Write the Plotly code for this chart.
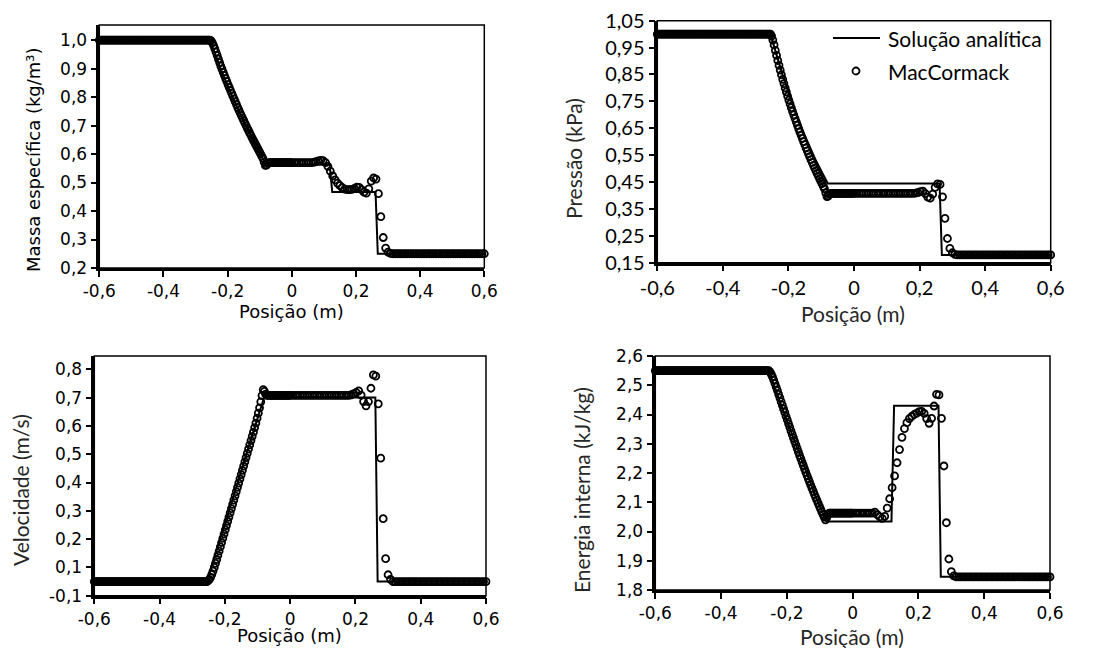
import numpy as np
import plotly.graph_objects as go

W, H = 1103, 648

# ---- MacCormack mesh: fine on the left half, coarser on the right half ----
x_left = np.linspace(-0.6, -0.00375, 160)   # dx = 0.00375
x_right = np.linspace(0.0, 0.6, 81)         # dx = 0.0075
x_num = np.concatenate([x_left, x_right])

# ---- MacCormack results ----
rho_num = (
    [1.000] * 92
    + [1.000, 0.997, 0.990, 0.981, 0.970, 0.958, 0.946, 0.933, 0.921, 0.909,
       0.898, 0.887, 0.876, 0.865, 0.855, 0.844, 0.834, 0.824, 0.814, 0.804,
       0.794, 0.784, 0.774, 0.764, 0.755, 0.745, 0.736, 0.727, 0.718, 0.709,
       0.700, 0.691, 0.683, 0.674, 0.666, 0.657, 0.649, 0.641, 0.633, 0.625,
       0.617, 0.609, 0.601, 0.593, 0.585, 0.572, 0.560, 0.561, 0.566]
    + [0.570] * 19
    + [0.570] * 9
    + [0.571, 0.573, 0.576, 0.578, 0.577, 0.570, 0.557, 0.540, 0.523, 0.509,
       0.498, 0.489, 0.482, 0.477, 0.475, 0.475, 0.476, 0.479, 0.484, 0.483,
       0.475, 0.466, 0.463, 0.478, 0.505, 0.516, 0.512, 0.461, 0.380, 0.307,
       0.270, 0.256, 0.251]
    + [0.250] * 39
)

p_num = (
    [1.000] * 92
    + [1.000, 0.993, 0.978, 0.960, 0.940, 0.921, 0.902, 0.884, 0.866, 0.849,
       0.832, 0.816, 0.800, 0.785, 0.770, 0.755, 0.741, 0.727, 0.713, 0.700,
       0.687, 0.674, 0.661, 0.648, 0.636, 0.624, 0.612, 0.600, 0.589, 0.577,
       0.566, 0.555, 0.544, 0.533, 0.523, 0.512, 0.502, 0.492, 0.482, 0.472,
       0.463, 0.453, 0.444, 0.434, 0.425, 0.410, 0.396, 0.398, 0.404]
    + [0.408] * 19
    + [0.408] * 9
    + [0.408, 0.408, 0.408, 0.408, 0.408, 0.408, 0.408, 0.408, 0.408, 0.408,
       0.408, 0.408, 0.408, 0.408, 0.408, 0.408, 0.409, 0.411, 0.414, 0.416,
       0.407, 0.394, 0.390, 0.405, 0.430, 0.443, 0.441, 0.395, 0.315, 0.240,
       0.203, 0.187, 0.181]
    + [0.179] * 39
)

u_num = (
    [0.050] * 92
    + [0.050, 0.053, 0.058, 0.065, 0.075, 0.087, 0.100, 0.114, 0.128, 0.143,
       0.158, 0.173, 0.188, 0.203, 0.218, 0.233, 0.248, 0.263, 0.278, 0.293,
       0.308, 0.323, 0.338, 0.353, 0.368, 0.383, 0.398, 0.413, 0.428, 0.443,
       0.458, 0.473, 0.488, 0.503, 0.518, 0.533, 0.548, 0.563, 0.578, 0.594,
       0.610, 0.627, 0.645, 0.664, 0.685, 0.707, 0.728, 0.722, 0.712]
    + [0.708] * 19
    + [0.708] * 9
    + [0.708, 0.708, 0.708, 0.708, 0.708, 0.708, 0.708, 0.708, 0.708, 0.708,
       0.708, 0.708, 0.708, 0.708, 0.708, 0.708, 0.710, 0.714, 0.718, 0.724,
       0.709, 0.686, 0.671, 0.686, 0.733, 0.780, 0.776, 0.678, 0.486, 0.272,
       0.131, 0.074, 0.058]
    + [0.050] * 39
)

e_num = (
    [2.550] * 92
    + [2.550, 2.546, 2.538, 2.529, 2.518, 2.506, 2.494, 2.482, 2.469, 2.457,
       2.444, 2.432, 2.419, 2.407, 2.394, 2.382, 2.369, 2.357, 2.344, 2.332,
       2.320, 2.308, 2.296, 2.284, 2.272, 2.260, 2.249, 2.237, 2.226, 2.214,
       2.203, 2.192, 2.181, 2.170, 2.159, 2.148, 2.138, 2.127, 2.117, 2.107,
       2.097, 2.087, 2.077, 2.067, 2.058, 2.049, 2.040, 2.048, 2.057]
    + [2.063] * 19
    + [2.063] * 9
    + [2.066, 2.058, 2.050, 2.045, 2.052, 2.080, 2.112, 2.150, 2.190, 2.235,
       2.280, 2.322, 2.352, 2.372, 2.386, 2.394, 2.400, 2.405, 2.410, 2.411,
       2.404, 2.386, 2.370, 2.387, 2.429, 2.469, 2.467, 2.387, 2.224, 2.030,
       1.906, 1.863, 1.848]
    + [1.845] * 39
)

# ---- analytical solution ----
x_rho_a = [-0.6, -0.255, -0.22, -0.185, -0.15, -0.115, -0.08, 0.118, 0.126, 0.261, 0.268, 0.6]
rho_a = [1.0, 1.0, 0.895, 0.800, 0.714, 0.637, 0.562, 0.562, 0.467, 0.467, 0.250, 0.250]

x_p_a = [-0.6, -0.255, -0.22, -0.185, -0.15, -0.115, -0.08, 0.261, 0.268, 0.6]
p_a = [1.0, 1.0, 0.857, 0.731, 0.622, 0.527, 0.445, 0.445, 0.179, 0.179]

x_u_a = [-0.6, -0.255, -0.08, 0.261, 0.268, 0.6]
u_a = [0.05, 0.05, 0.70, 0.70, 0.05, 0.05]

x_e_a = [-0.6, -0.255, -0.22, -0.185, -0.15, -0.115, -0.08, 0.118, 0.126, 0.261, 0.268, 0.6]
e_a = [2.55, 2.55, 2.440, 2.333, 2.228, 2.126, 2.034, 2.034, 2.430, 2.430, 1.845, 1.845]

# ---- tick labels ----
x_ticks = [-0.6, -0.4, -0.2, 0.0, 0.2, 0.4, 0.6]
x_ticktext = ["-0,6", "-0,4", "-0,2", "0", "0,2", "0,4", "0,6"]
rho_ticks = [0.2, 0.3, 0.4, 0.5, 0.6, 0.7, 0.8, 0.9, 1.0]
rho_ticktext = ["0,2", "0,3", "0,4", "0,5", "0,6", "0,7", "0,8", "0,9", "1,0"]
p_ticks = [0.15, 0.25, 0.35, 0.45, 0.55, 0.65, 0.75, 0.85, 0.95, 1.05]
p_ticktext = ["0,15", "0,25", "0,35", "0,45", "0,55", "0,65", "0,75", "0,85", "0,95", "1,05"]
u_ticks = [0.0, 0.1, 0.2, 0.3, 0.4, 0.5, 0.6, 0.7, 0.8]
u_ticktext = ["-0,1", "0,1", "0,2", "0,3", "0,4", "0,5", "0,6", "0,7", "0,8"]
e_ticks = [1.8, 1.9, 2.0, 2.1, 2.2, 2.3, 2.4, 2.5, 2.6]
e_ticktext = ["1,8", "1,9", "2,0", "2,1", "2,2", "2,3", "2,4", "2,5", "2,6"]

VERDANA = "DejaVu Sans"
CALIBRI = "Lato"

fig = go.Figure()

panels = [
    (x_rho_a, rho_a, rho_num, "x", "y"),
    (x_p_a, p_a, p_num, "x2", "y2"),
    (x_u_a, u_a, u_num, "x3", "y3"),
    (x_e_a, e_a, e_num, "x4", "y4"),
]
for xa, ya, yn, xr, yr in panels:
    fig.add_trace(go.Scatter(
        x=xa, y=ya, mode="lines", xaxis=xr, yaxis=yr,
        line=dict(color="black", width=2), showlegend=False, cliponaxis=False,
    ))
    fig.add_trace(go.Scatter(
        x=x_num, y=yn, mode="markers", xaxis=xr, yaxis=yr,
        marker=dict(symbol="circle-open", size=7, color="black",
                    line=dict(width=1.8, color="black")),
        showlegend=False, cliponaxis=False,
    ))


def px_x(v):
    return v / W


def px_y(v):
    return 1 - v / H


def xaxis_cfg(left, right, font_family, font_size, anchor):
    return dict(
        domain=[px_x(left), px_x(right)], range=[-0.6, 0.6], anchor=anchor,
        tickvals=x_ticks, ticktext=x_ticktext, automargin=False,
        ticks="outside", ticklen=6, tickwidth=1.5, tickcolor="black",
        showline=True, linewidth=2.5, linecolor="black",
        showgrid=False, zeroline=False,
        tickfont=dict(family=font_family, size=font_size, color="black"),
    )


def yaxis_cfg(top, bottom, rng, tv, tt, font_family, font_size, anchor):
    return dict(
        domain=[px_y(bottom), px_y(top)], range=rng,
        tickvals=tv, ticktext=tt, anchor=anchor, automargin=False,
        ticks="outside", ticklen=6, tickwidth=1.5, tickcolor="black",
        showline=True, linewidth=2.5, linecolor="black",
        showgrid=False, zeroline=False,
        tickfont=dict(family=font_family, size=font_size, color="black"),
    )


fig.update_layout(
    width=W, height=H,
    margin=dict(l=0, r=0, t=0, b=0, autoexpand=False),
    paper_bgcolor="white", plot_bgcolor="white",
    xaxis=xaxis_cfg(99.3, 484.3, VERDANA, 17, "y"),
    yaxis=yaxis_cfg(25, 268, [0.2, 1.053], rho_ticks, rho_ticktext, VERDANA, 17, "x"),
    xaxis2=xaxis_cfg(657.3, 1050.7, CALIBRI, 20, "y2"),
    yaxis2=yaxis_cfg(20.7, 262.7, [0.15, 1.05], p_ticks, p_ticktext, CALIBRI, 20, "x2"),
    xaxis3=xaxis_cfg(94.3, 486.0, VERDANA, 17, "y3"),
    yaxis3=yaxis_cfg(356, 595.7, [0.0, 0.847], u_ticks, u_ticktext, VERDANA, 17, "x3"),
    xaxis4=xaxis_cfg(655.3, 1050.0, VERDANA, 17, "y4"),
    yaxis4=yaxis_cfg(356, 590, [1.8, 2.6], e_ticks, e_ticktext, VERDANA, 17, "x4"),
)

# frame around each plot area
shapes = []
for xr, yr in [("x", "y"), ("x2", "y2"), ("x3", "y3"), ("x4", "y4")]:
    shapes.append(dict(type="rect", xref=f"{xr} domain", yref=f"{yr} domain",
                       x0=0, x1=1, y0=0, y1=1, line=dict(color="black", width=1.5),
                       layer="below"))

# legend (top-right panel)
shapes.append(dict(type="line", xref="paper", yref="paper",
                   x0=px_x(833), x1=px_x(880), y0=px_y(38), y1=px_y(38),
                   line=dict(color="black", width=2)))
shapes.append(dict(type="circle", xref="paper", yref="paper",
                   x0=px_x(852.5), x1=px_x(859.5), y0=px_y(74.5), y1=px_y(67.5),
                   line=dict(color="black", width=1.8)))
fig.update_layout(shapes=shapes)

ann = []


def label(text, x, y, family, size, angle=0, xanchor="center", color="black"):
    ann.append(dict(text=text, x=px_x(x), y=px_y(y), xref="paper", yref="paper",
                    showarrow=False, textangle=angle, xanchor=xanchor, yanchor="middle",
                    font=dict(family=family, size=size, color=color)))


label("Solução analítica", 886, 38, CALIBRI, 21, xanchor="left")
label("MacCormack", 886, 71, CALIBRI, 21, xanchor="left")

label("Massa específica (kg/m³)", 33, 160, VERDANA, 18, angle=-90)
label("Posição (m)", 291, 312, VERDANA, 18)
label("Pressão (kPa)", 573, 159, CALIBRI, 21, angle=-90, color="#262626")
label("Posição (m)", 853, 313, CALIBRI, 21, color="#262626")
label("Velocidade (m/s)", 20, 490, CALIBRI, 21, angle=-90, color="#262626")
label("Posição (m)", 289, 635, VERDANA, 18)
label("Energia interna (kJ/kg)", 581, 490, CALIBRI, 21, angle=-90, color="#262626")
label("Posição (m)", 852, 636, CALIBRI, 21, color="#262626")

fig.update_layout(annotations=ann)

fig.write_html("out.html")
